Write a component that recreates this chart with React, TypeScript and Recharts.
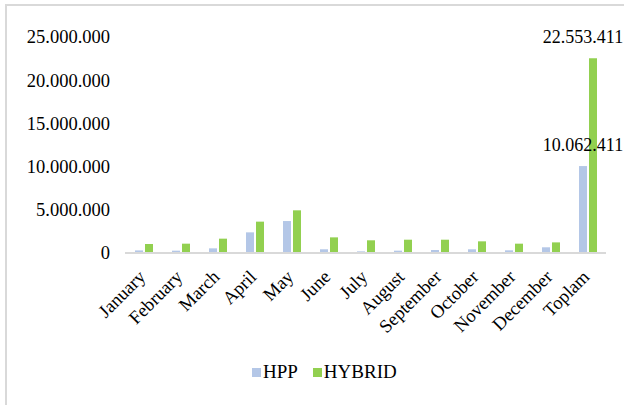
import { BarChart, Bar, XAxis, YAxis, Legend, LabelList } from 'recharts'

const months = ['January', 'February', 'March', 'April', 'May', 'June', 'July', 'August', 'September', 'October', 'November', 'December', 'Toplam']
const hppValues = [300000, 270000, 540000, 2390000, 3700000, 430000, 190000, 270000, 350000, 430000, 310000, 660000, 10062411]
const hybridValues = [1040000, 1080000, 1660000, 3630000, 4940000, 1810000, 1470000, 1540000, 1540000, 1350000, 1080000, 1230000, 22553411]
const yTicks = [0, 5000000, 10000000, 15000000, 20000000, 25000000]

const data = months.map((m, i) => ({ month: m, HPP: hppValues[i], HYBRID: hybridValues[i] }))

const FONT = '"Liberation Serif", "Times New Roman", serif'
const lastIndex = months.length - 1

const fmt = (v: number) => String(Math.round(v)).replace(/\B(?=(\d{3})+(?!\d))/g, '.')

function MonthTick({ x, y, payload }: any) {
    const ax = x + 3
    const ay = y + 17
    return (
        <text x={ax} y={ay} transform={`rotate(-45, ${ax}, ${ay})`} textAnchor="end" fontSize={18.5} fill="#000" fontFamily={FONT}>
            {payload.value}
        </text>
    )
}

function ValueTick({ x, y, payload }: any) {
    return (
        <text x={x} y={y} dy="0.35em" textAnchor="end" fontSize={18.5} fill="#000" fontFamily={FONT}>
            {fmt(payload.value)}
        </text>
    )
}

const makeLabel = (shift: number) => (p: any) => {
    if (p.index !== lastIndex) return null
    return (
        <text x={p.x + p.width / 2 + shift} y={p.y - 21} dy="0.35em" textAnchor="middle" fontSize={18} fill="#000" fontFamily={FONT}>
            {fmt(p.value)}
        </text>
    )
}

function LegendBox({ payload }: any) {
    return (
        <div style={{ display: 'flex', alignItems: 'center', fontFamily: FONT, fontSize: 19, color: '#000', lineHeight: '20px' }}>
            {(payload || []).map((item: any) => (
                <div key={item.value} style={{ display: 'flex', alignItems: 'center', marginRight: 15 }}>
                    <span style={{ width: 9, height: 9, background: item.color, marginRight: 2, display: 'inline-block' }} />
                    <span>{item.value}</span>
                </div>
            ))}
        </div>
    )
}

function App() {
    return (
        <div style={{ position: 'fixed', left: 0, top: 0, width: 624, height: 405, overflow: 'hidden', background: '#fff', fontFamily: FONT }}>
            <div style={{ position: 'absolute', left: 5, top: 4, width: 700, height: 500, border: '2px solid #d9d9d9' }} />
            <div style={{ position: 'absolute', left: 0, top: 0 }}>
                <BarChart width={624} height={405} data={data} barSize={8} barGap={2} margin={{ top: 37, right: 18, left: 0, bottom: 0 }} style={{ fontFamily: FONT }}>
                    <XAxis dataKey="month" height={152} interval={0} tickLine={false} axisLine={{ stroke: '#d9d9d9', strokeWidth: 2 }} tick={<MonthTick />} />
                    <YAxis width={125} domain={[0, 25000000]} ticks={yTicks} axisLine={false} tickLine={false} tickMargin={9} tick={<ValueTick />} />
                    <Legend
                        layout="horizontal"
                        verticalAlign="middle"
                        align="center"
                        wrapperStyle={{ top: 362, left: 252, width: 'auto' }}
                        content={<LegendBox />}
                    />
                    <Bar dataKey="HPP" fill="#b4c7e7" isAnimationActive={false}>
                        <LabelList dataKey="HPP" content={makeLabel(0)} />
                    </Bar>
                    <Bar dataKey="HYBRID" fill="#92d050" isAnimationActive={false}>
                        <LabelList dataKey="HYBRID" content={makeLabel(-10)} />
                    </Bar>
                </BarChart>
            </div>
        </div>
    )
}

export default App
